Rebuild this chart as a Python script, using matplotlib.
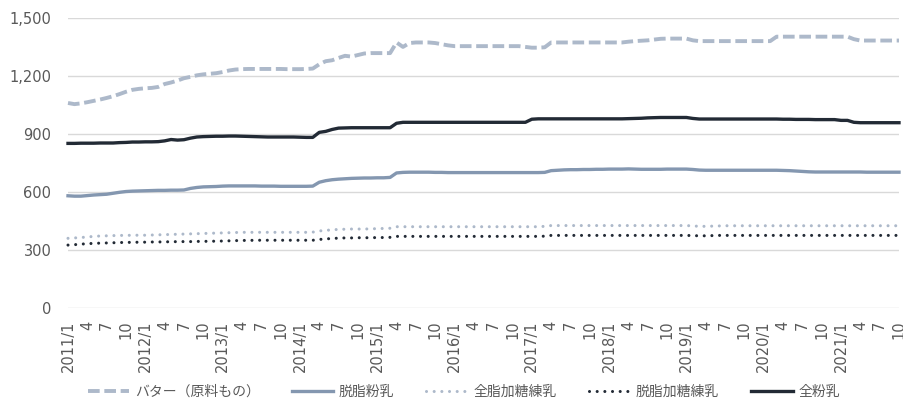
import numpy as np
import matplotlib.pyplot as plt

plt.rcParams['font.family'] = ['DejaVu Sans', 'Noto Sans CJK JP']

# monthly values 2011/1 - 2021/10
butter = [1062, 1056, 1060, 1066, 1073, 1080, 1088, 1097, 1108, 1120, 1130, 1135,
          1138, 1140, 1145, 1160, 1168, 1178, 1190, 1197, 1205, 1210, 1213, 1216,
          1222, 1230, 1235, 1237, 1238, 1238, 1238, 1238, 1238, 1238, 1237, 1237,
          1237, 1238, 1240, 1262, 1278, 1283, 1295, 1306, 1302, 1310, 1318, 1320,
          1320, 1320, 1320, 1375, 1352, 1372, 1375, 1375, 1375, 1372, 1366, 1360,
          1356, 1356, 1356, 1356, 1356, 1356, 1356, 1356, 1356, 1356, 1356, 1352,
          1348, 1348, 1350, 1375, 1375, 1375, 1375, 1375, 1375, 1375, 1375, 1375,
          1375, 1375, 1375, 1379, 1382, 1384, 1386, 1390, 1394, 1395, 1395, 1395,
          1395, 1386, 1382, 1382, 1382, 1382, 1382, 1382, 1382, 1382, 1382, 1382,
          1382, 1382, 1405, 1405, 1405, 1405, 1405, 1405, 1405, 1405, 1405, 1405,
          1405, 1405, 1392, 1385, 1385, 1385, 1385, 1385, 1385, 1385]

dakkofunnyu = [582, 580, 580, 583, 586, 588, 590, 595, 600, 604, 606, 607,
               608, 609, 610, 610, 611, 611, 612, 620, 625, 628, 629, 630,
               632, 633, 633, 633, 633, 633, 632, 632, 632, 631, 631, 631,
               631, 631, 632, 652, 660, 665, 668, 670, 672, 673, 674, 674,
               675, 675, 677, 700, 703, 704, 704, 704, 704, 703, 703, 702,
               702, 702, 702, 702, 702, 702, 702, 702, 702, 702, 702, 702,
               702, 702, 703, 712, 714, 716, 717, 717, 718, 718, 719, 719,
               720, 720, 720, 721, 720, 719, 719, 719, 719, 720, 720, 720,
               720, 718, 715, 714, 714, 714, 714, 714, 714, 714, 714, 714,
               714, 714, 714, 713, 712, 710, 708, 706, 705, 705, 705, 705,
               705, 705, 705, 705, 704, 704, 704, 704, 704, 704]

zenshi_rennyu = [362, 364, 366, 369, 372, 374, 375, 376, 377, 377, 378, 378,
                 378, 379, 380, 381, 382, 383, 384, 385, 386, 387, 388, 389,
                 390, 391, 392, 393, 393, 393, 393, 393, 393, 393, 393, 393,
                 393, 393, 394, 400, 403, 406, 408, 409, 410, 410, 410, 411,
                 412, 413, 414, 422, 422, 422, 422, 422, 422, 422, 422, 422,
                 422, 422, 422, 422, 422, 422, 422, 422, 422, 422, 422, 422,
                 422, 422, 424, 428, 428, 428, 428, 428, 428, 428, 428, 428,
                 428, 428, 428, 428, 428, 428, 428, 428, 428, 428, 428, 428,
                 428, 426, 424, 424, 425, 426, 427, 427, 427, 427, 427, 427,
                 427, 427, 427, 427, 427, 427, 427, 427, 427, 427, 427, 427,
                 427, 427, 427, 427, 427, 427, 427, 427, 427, 427]

dasshi_rennyu = [327, 329, 332, 334, 336, 337, 338, 339, 340, 341, 341, 342,
                 342, 343, 343, 344, 344, 345, 345, 345, 346, 346, 347, 347,
                 348, 349, 350, 351, 351, 352, 352, 352, 352, 352, 352, 352,
                 352, 352, 352, 356, 359, 361, 363, 364, 364, 365, 365, 365,
                 366, 366, 367, 372, 372, 372, 372, 372, 372, 372, 372, 372,
                 372, 372, 372, 372, 372, 372, 372, 372, 372, 372, 372, 372,
                 372, 372, 373, 377, 377, 377, 377, 377, 377, 377, 377, 377,
                 377, 377, 377, 377, 377, 377, 377, 377, 377, 377, 377, 377,
                 377, 376, 375, 375, 376, 377, 377, 377, 377, 377, 377, 377,
                 377, 377, 377, 377, 377, 377, 377, 377, 377, 377, 377, 377,
                 377, 377, 377, 377, 377, 377, 377, 377, 377, 377]

zenfunnyu = [853, 853, 854, 854, 854, 855, 855, 855, 857, 858, 860, 860,
             861, 861, 862, 866, 873, 870, 872, 880, 886, 888, 889, 890,
             890, 891, 891, 890, 889, 888, 887, 886, 886, 886, 886, 886,
             885, 884, 884, 910, 915, 925, 932, 933, 934, 934, 934, 934,
             934, 934, 934, 957, 962, 962, 962, 962, 962, 962, 962, 962,
             962, 962, 962, 962, 962, 962, 962, 962, 962, 962, 962, 962,
             978, 980, 980, 980, 980, 980, 980, 980, 980, 980, 980, 980,
             980, 980, 980, 981, 982, 983, 985, 986, 987, 987, 987, 987,
             987, 982, 979, 979, 979, 979, 979, 979, 979, 979, 979, 979,
             979, 979, 979, 978, 978, 977, 977, 977, 976, 976, 976, 976,
             972, 972, 962, 960, 960, 960, 960, 960, 960, 960]

# tick every 3 months
xticklabels = ['2011/1', '4', '7', '10', '2012/1', '4', '7', '10',
               '2013/1', '4', '7', '10', '2014/1', '4', '7', '10',
               '2015/1', '4', '7', '10', '2016/1', '4', '7', '10',
               '2017/1', '4', '7', '10', '2018/1', '4', '7', '10',
               '2019/1', '4', '7', '10', '2020/1', '4', '7', '10',
               '2021/1', '4', '7', '10']
yticks = [0, 300, 600, 900, 1200, 1500]

light = '#adb9ca'
mid = '#8497b0'
dark = '#222a35'
txt = '#595959'

x = np.arange(len(butter))

fig = plt.figure(figsize=(9.04, 4.03), dpi=100)
ax = fig.add_axes([68/904, 1 - 308.3/403, 831/904, 290/403])

ax.plot(x, butter, color=light, lw=2.8, linestyle=(0, (3, 1.2)), solid_capstyle='butt',
        dash_capstyle='butt', clip_on=False, label='バター（原料もの）')
ax.plot(x, dakkofunnyu, color=mid, lw=2.4, clip_on=False, label='脱脂粉乳')
ax.plot(x, zenshi_rennyu, color=light, lw=2.2, linestyle=(0, (0.01, 2.5)),
        dash_capstyle='round', clip_on=False, label='全脂加糖練乳')
ax.plot(x, dasshi_rennyu, color=dark, lw=2.2, linestyle=(0, (0.01, 2.5)),
        dash_capstyle='round', clip_on=False, label='脱脂加糖練乳')
ax.plot(x, zenfunnyu, color=dark, lw=2.4, clip_on=False, label='全粉乳')

ax.set_xlim(0, len(butter) - 1)
ax.set_ylim(0, 1500)
ax.set_yticks(yticks)
ax.set_yticklabels([f'{v:,}' for v in yticks])
ax.set_xticks(x[::3])
ax.set_xticklabels(xticklabels, rotation=90)
ax.tick_params(length=0, colors=txt, labelsize=10.5)
ax.tick_params(axis='y', pad=12)
ax.tick_params(axis='x', pad=9)
for s in ax.spines.values():
    s.set_visible(False)
ax.grid(axis='y', color='#d9d9d9', lw=1)
ax.set_axisbelow(True)

leg = fig.legend(loc='center', bbox_to_anchor=(0.513, 0.027), ncol=5, frameon=False,
                 handlelength=3, handletextpad=0.4, columnspacing=2.3,
                 prop={'family': ['Noto Sans CJK JP'], 'size': 10})
for t in leg.get_texts():
    t.set_color(txt)

fig.savefig('out.png', dpi=100)
